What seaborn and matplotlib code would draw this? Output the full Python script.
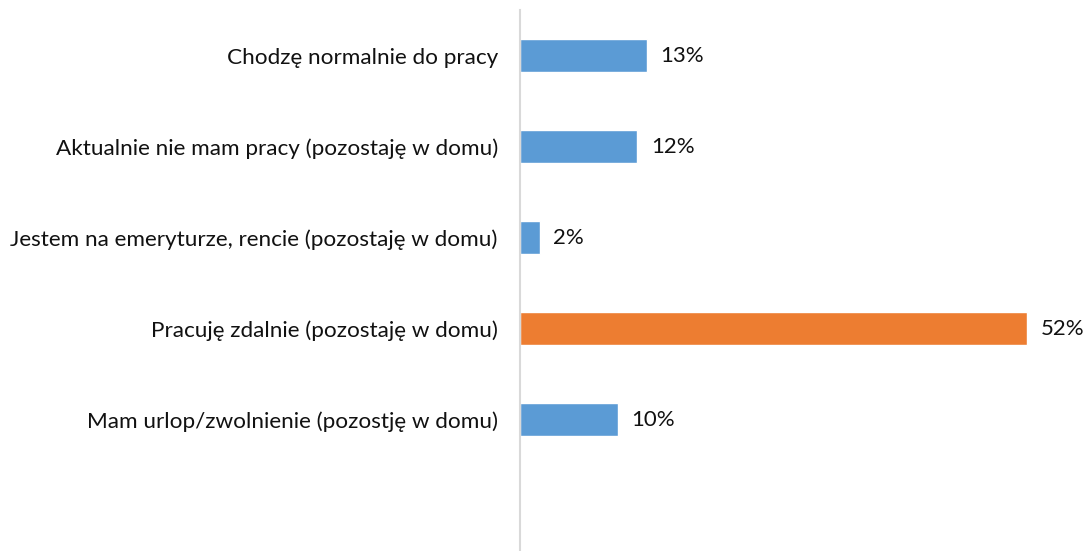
import seaborn as sns
import matplotlib.pyplot as plt
import pandas as pd

categories = ['Chodzę normalnie do pracy',
              'Aktualnie nie mam pracy (pozostaję w domu)',
              'Jestem na emeryturze, rencie (pozostaję w domu)',
              'Pracuję zdalnie (pozostaję w domu)',
              'Mam urlop/zwolnienie (pozostję w domu)']
values = [13, 12, 2, 52, 10]
colors = ['#5B9BD5', '#5B9BD5', '#5B9BD5', '#ED7D31', '#5B9BD5']

df = pd.DataFrame({'cat': categories, 'val': values})

sns.set_style('white')
plt.rcParams['font.family'] = ['Lato', 'DejaVu Sans']

fig = plt.figure(figsize=(10.88, 5.51), dpi=100)
ax = fig.add_axes([520 / 1088, 0, 565.5 / 1088, 541 / 551])

sns.barplot(data=df, x='val', y='cat', hue='cat', palette=colors,
            legend=False, width=0.36, ax=ax, saturation=1)

for c in ax.containers:
    ax.bar_label(c, fmt='%d%%', padding=10, fontsize=16, color='#111111')

ax.set_xlim(0, 58)
ax.set_ylim(5.445, -0.5)
ax.set_xlabel('')
ax.set_ylabel('')
ax.set_xticks([])
for s in ['top', 'right', 'bottom']:
    ax.spines[s].set_visible(False)
ax.spines['left'].set_color('#D9D9D9')
ax.spines['left'].set_linewidth(1.5)
ax.tick_params(axis='y', length=0, pad=16, labelsize=16.2, labelcolor='#111111')

fig.savefig('out.png', dpi=100)
